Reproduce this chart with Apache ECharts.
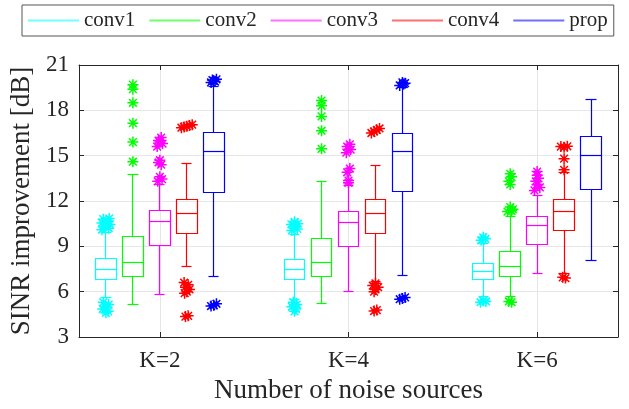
<!DOCTYPE html>
<html><head><meta charset="utf-8">
<script src="https://cdn.jsdelivr.net/npm/echarts@6/dist/echarts.min.js"></script>
<style>html,body{margin:0;padding:0;background:#fff}#c{width:629px;height:409px}</style>
</head><body><div id="c"></div>
<script>
// ---- data ----
const groups = ['K=2', 'K=4', 'K=6'];
const methods = ['conv1', 'conv2', 'conv3', 'conv4', 'prop'];
const yTicks = [3, 6, 9, 12, 15, 18, 21];

// box stats per group: [lower whisker, Q1, median, Q3, upper whisker]
const conv1Box = [[5.6, 6.83, 7.47, 8.17, 9.9], [5.5, 6.83, 7.47, 8.15, 9.75], [5.65, 6.81, 7.36, 7.88, 9.2]];
const conv2Box = [[5.12, 7.03, 7.95, 9.66, 13.75], [5.23, 7.03, 7.91, 9.55, 13.31], [5.65, 6.99, 7.69, 8.69, 11.0]];
const conv3Box = [[5.83, 9.07, 10.62, 11.39, 13.1], [6.0, 9.02, 10.6, 11.3, 13.0], [7.2, 9.11, 10.36, 10.99, 12.35]];
const conv4Box = [[7.69, 9.83, 11.15, 12.13, 14.5], [6.7, 9.83, 11.17, 12.09, 14.37], [7.2, 10.07, 11.32, 12.09, 13.88]];
const propBox  = [[6.99, 12.59, 15.28, 16.53, 19.6], [7.07, 12.61, 15.26, 16.49, 19.5], [8.08, 12.77, 15.04, 16.27, 18.74]];

// outliers: [group index, horizontal jitter, value]
const conv1Out = [
  [0,-0.15,10.1],[0,0.1,10.2],[0,-0.05,10.35],[0,0.15,10.45],[0,-0.15,10.55],[0,0.05,10.65],[0,-0.1,10.8],[0,0.12,10.85],[0,0,10.5],
  [0,-0.1,5.3],[0,0.1,5.15],[0,0,5.0],[0,-0.12,4.85],[0,0.08,4.7],[0,0,4.6],
  [1,-0.1,10.05],[1,0.1,10.15],[1,0,10.3],[1,-0.12,10.45],[1,0.12,10.5],[1,0,10.62],
  [1,-0.05,5.3],[1,0.08,5.15],[1,-0.1,5.0],[1,0.05,4.85],[1,0,4.7],
  [2,-0.08,9.4],[2,0.08,9.5],[2,0,9.6],
  [2,-0.1,5.3],[2,0.1,5.35],[2,0,5.4]
];
const conv2Out = [
  [0,0,19.7],[0,0,19.4],[0,0,18.5],[0,0,17.15],[0,0,15.9],[0,0,14.6],
  [1,0,18.65],[1,0,18.3],[1,0,17.6],[1,0,16.65],[1,0,15.45],
  [2,-0.1,11.3],[2,0.1,11.45],[2,0,11.6],[2,0.05,11.35],
  [2,0,13.1],[2,-0.05,13.3],[2,0.05,13.6],[2,0,13.8],
  [2,-0.05,5.35],[2,0.05,5.3]
];
const conv3Out = [
  [0,-0.08,13.3],[0,0.08,13.45],[0,0,13.6],[0,0.05,14.4],[0,-0.05,14.55],[0,0,14.7],
  [0,-0.1,15.6],[0,0.1,15.8],[0,-0.05,16.0],[0,0.05,16.2],[0,0,15.9],
  [1,0,13.2],[1,0,13.35],[1,-0.05,13.9],[1,0.05,14.15],[1,-0.08,15.2],[1,0.08,15.4],[1,-0.05,15.6],[1,0.05,15.75],
  [2,-0.1,12.7],[2,0.1,12.9],[2,0,13.1],[2,-0.05,13.3],[2,0.05,13.5],[2,0,13.7],[2,0,13.95]
];
const conv4Out = [
  [0,-0.2,16.85],[0,-0.1,16.9],[0,0,16.95],[0,0.1,17.0],[0,0.2,17.05],
  [0,-0.1,6.6],[0,0.05,6.45],[0,-0.05,6.3],[0,0.1,6.15],[0,0,6.0],[0,-0.08,5.9],
  [0,-0.05,4.35],[0,0.05,4.4],
  [1,-0.15,16.5],[1,-0.05,16.6],[1,0.05,16.7],[1,0.15,16.8],
  [1,0,6.55],[1,-0.1,6.4],[1,0.1,6.3],[1,0,6.15],[1,-0.05,6.0],
  [1,-0.05,4.72],[1,0.05,4.78],
  [2,-0.12,15.6],[2,0,15.55],[2,0.12,15.62],[2,0,14.8],[2,0,14.06],
  [2,-0.05,6.95],[2,0.05,6.9]
];
const propOut = [
  [0,-0.1,19.85],[0,0.05,19.9],[0,-0.05,20.0],[0,0.1,20.05],[0,0,19.95],
  [0,-0.1,5.05],[0,0,5.1],[0,0.1,5.2],
  [1,-0.1,19.65],[1,0.05,19.75],[1,0,19.85],[1,0.1,19.8],
  [1,-0.1,5.5],[1,0,5.55],[1,0.1,5.62]
];

// ---- styling ----
const colors = ['#00ffff', '#00ff00', '#ff00ff', '#ff0000', '#0000ff'];
const legendColors = ['#70ffff', '#70ff70', '#ff70ff', '#ff7070', '#7070ff'];
const boxes = [conv1Box, conv2Box, conv3Box, conv4Box, propBox];
const outs = [conv1Out, conv2Out, conv3Out, conv4Out, propOut];
const FONT = '"Liberation Serif", "Times New Roman", serif';
const TXT = '#262626';
const STEP = 7;          // spacing between group centres (in box-slot units)
const HALF_BOX = 0.385;
const HALF_CAP = 0.19;
const groupCenters = groups.map((g, i) => (i + 1) * STEP);
const ASTER = 'path://M5,0L5,10M0,5L10,5M1.5,1.5L8.5,8.5M8.5,1.5L1.5,8.5';

function cr(v) { return Math.round(v - 0.5) + 0.5; }

function makeRender(color) {
  return function (params, api) {
    const x = api.value(0);
    const lo = api.value(1), q1 = api.value(2), md = api.value(3), q3 = api.value(4), hi = api.value(5);
    const xl = cr(api.coord([x - HALF_BOX, 0])[0]);
    const xr = cr(api.coord([x + HALF_BOX, 0])[0]);
    const xc = cr(api.coord([x, 0])[0]);
    const cl = cr(api.coord([x - HALF_CAP, 0])[0]);
    const crr = cr(api.coord([x + HALF_CAP, 0])[0]);
    const yLo = cr(api.coord([x, lo])[1]);
    const yQ1 = cr(api.coord([x, q1])[1]);
    const yMd = cr(api.coord([x, md])[1]);
    const yQ3 = cr(api.coord([x, q3])[1]);
    const yHi = cr(api.coord([x, hi])[1]);
    const st = { stroke: color, lineWidth: 1.2, fill: null };
    return {
      type: 'group',
      children: [
        { type: 'line', shape: { x1: xc, y1: yQ3, x2: xc, y2: yHi }, style: st },
        { type: 'line', shape: { x1: xc, y1: yQ1, x2: xc, y2: yLo }, style: st },
        { type: 'line', shape: { x1: cl, y1: yHi, x2: crr, y2: yHi }, style: st },
        { type: 'line', shape: { x1: cl, y1: yLo, x2: crr, y2: yLo }, style: st },
        { type: 'rect', shape: { x: xl, y: yQ3, width: xr - xl, height: yQ1 - yQ3 }, style: { stroke: color, lineWidth: 1.2, fill: 'none' } },
        { type: 'line', shape: { x1: xl, y1: yMd, x2: xr, y2: yMd }, style: st }
      ]
    };
  };
}

const series = [];
methods.forEach((m, mi) => {
  series.push({
    name: m,
    type: 'custom',
    renderItem: makeRender(colors[mi]),
    encode: { x: 0, y: [1, 2, 3, 4, 5] },
    data: boxes[mi].map((b, gi) => [groupCenters[gi] + mi - 2].concat(b)),
    z: 3
  });
});
methods.forEach((m, mi) => {
  series.push({
    name: m,
    type: 'scatter',
    symbol: ASTER,
    symbolSize: 11,
    itemStyle: { color: 'none', borderColor: colors[mi], borderWidth: 1.5, opacity: 1 },
    emphasis: { disabled: true },
    data: outs[mi].map(o => [groupCenters[o[0]] + mi - 2 + o[1], o[2]]),
    z: 4
  });
});

const chart = echarts.init(document.getElementById('c'), null, { renderer: 'canvas' });
chart.setOption({
  animation: false,
  backgroundColor: '#fff',
  grid: { left: 79, right: 11, top: 65, bottom: 70 },
  legend: {
    left: 22, top: 5,
    padding: [5, 6, 5, 6],
    borderColor: '#555', borderWidth: 1,
    itemWidth: 51, itemHeight: 2, itemGap: 14,
    textStyle: { fontFamily: FONT, fontSize: 21, color: TXT },
    data: methods.map((m, mi) => ({ name: m, icon: 'rect', itemStyle: { color: legendColors[mi], borderWidth: 0 } })),
    selectedMode: false
  },
  xAxis: [{
    type: 'value', min: 4, max: 24,
    name: 'Number of noise sources', nameLocation: 'middle', nameGap: 40,
    nameTextStyle: { fontFamily: FONT, fontSize: 27, color: TXT },
    axisLine: { show: true, onZero: false, lineStyle: { color: TXT, width: 1 } },
    axisTick: { show: true, inside: true, length: 5, customValues: groupCenters, lineStyle: { color: TXT } },
    axisLabel: { customValues: groupCenters, margin: 12, fontFamily: FONT, fontSize: 23, color: TXT,
      formatter: v => groups[groupCenters.indexOf(v)] || '' },
    splitLine: { show: true, lineStyle: { color: '#e6e6e6', width: 1 } }
  }, {
    type: 'value', min: 4, max: 24, position: 'top',
    axisLine: { show: true, onZero: false, lineStyle: { color: TXT, width: 1 } },
    axisTick: { show: true, inside: true, length: 5, customValues: groupCenters, lineStyle: { color: TXT } },
    axisLabel: { show: false }, splitLine: { show: false }
  }],
  yAxis: [{
    type: 'value', min: 3, max: 21, interval: 3,
    name: 'SINR improvement [dB]', nameLocation: 'middle', nameGap: 39,
    nameTextStyle: { fontFamily: FONT, fontSize: 27, color: TXT },
    axisLine: { show: true, onZero: false, lineStyle: { color: TXT, width: 1 } },
    axisTick: { show: true, inside: true, length: 5, lineStyle: { color: TXT } },
    axisLabel: { margin: 10, fontFamily: FONT, fontSize: 23, color: TXT,
      formatter: v => yTicks.indexOf(v) >= 0 ? String(v) : '' },
    splitLine: { show: true, lineStyle: { color: '#e6e6e6', width: 1 } }
  }, {
    type: 'value', min: 3, max: 21, interval: 3, position: 'right',
    axisLine: { show: true, onZero: false, lineStyle: { color: TXT, width: 1 } },
    axisTick: { show: true, inside: true, length: 5, lineStyle: { color: TXT } },
    axisLabel: { show: false }, splitLine: { show: false }
  }],
  series: series
});
</script>
</body></html>
